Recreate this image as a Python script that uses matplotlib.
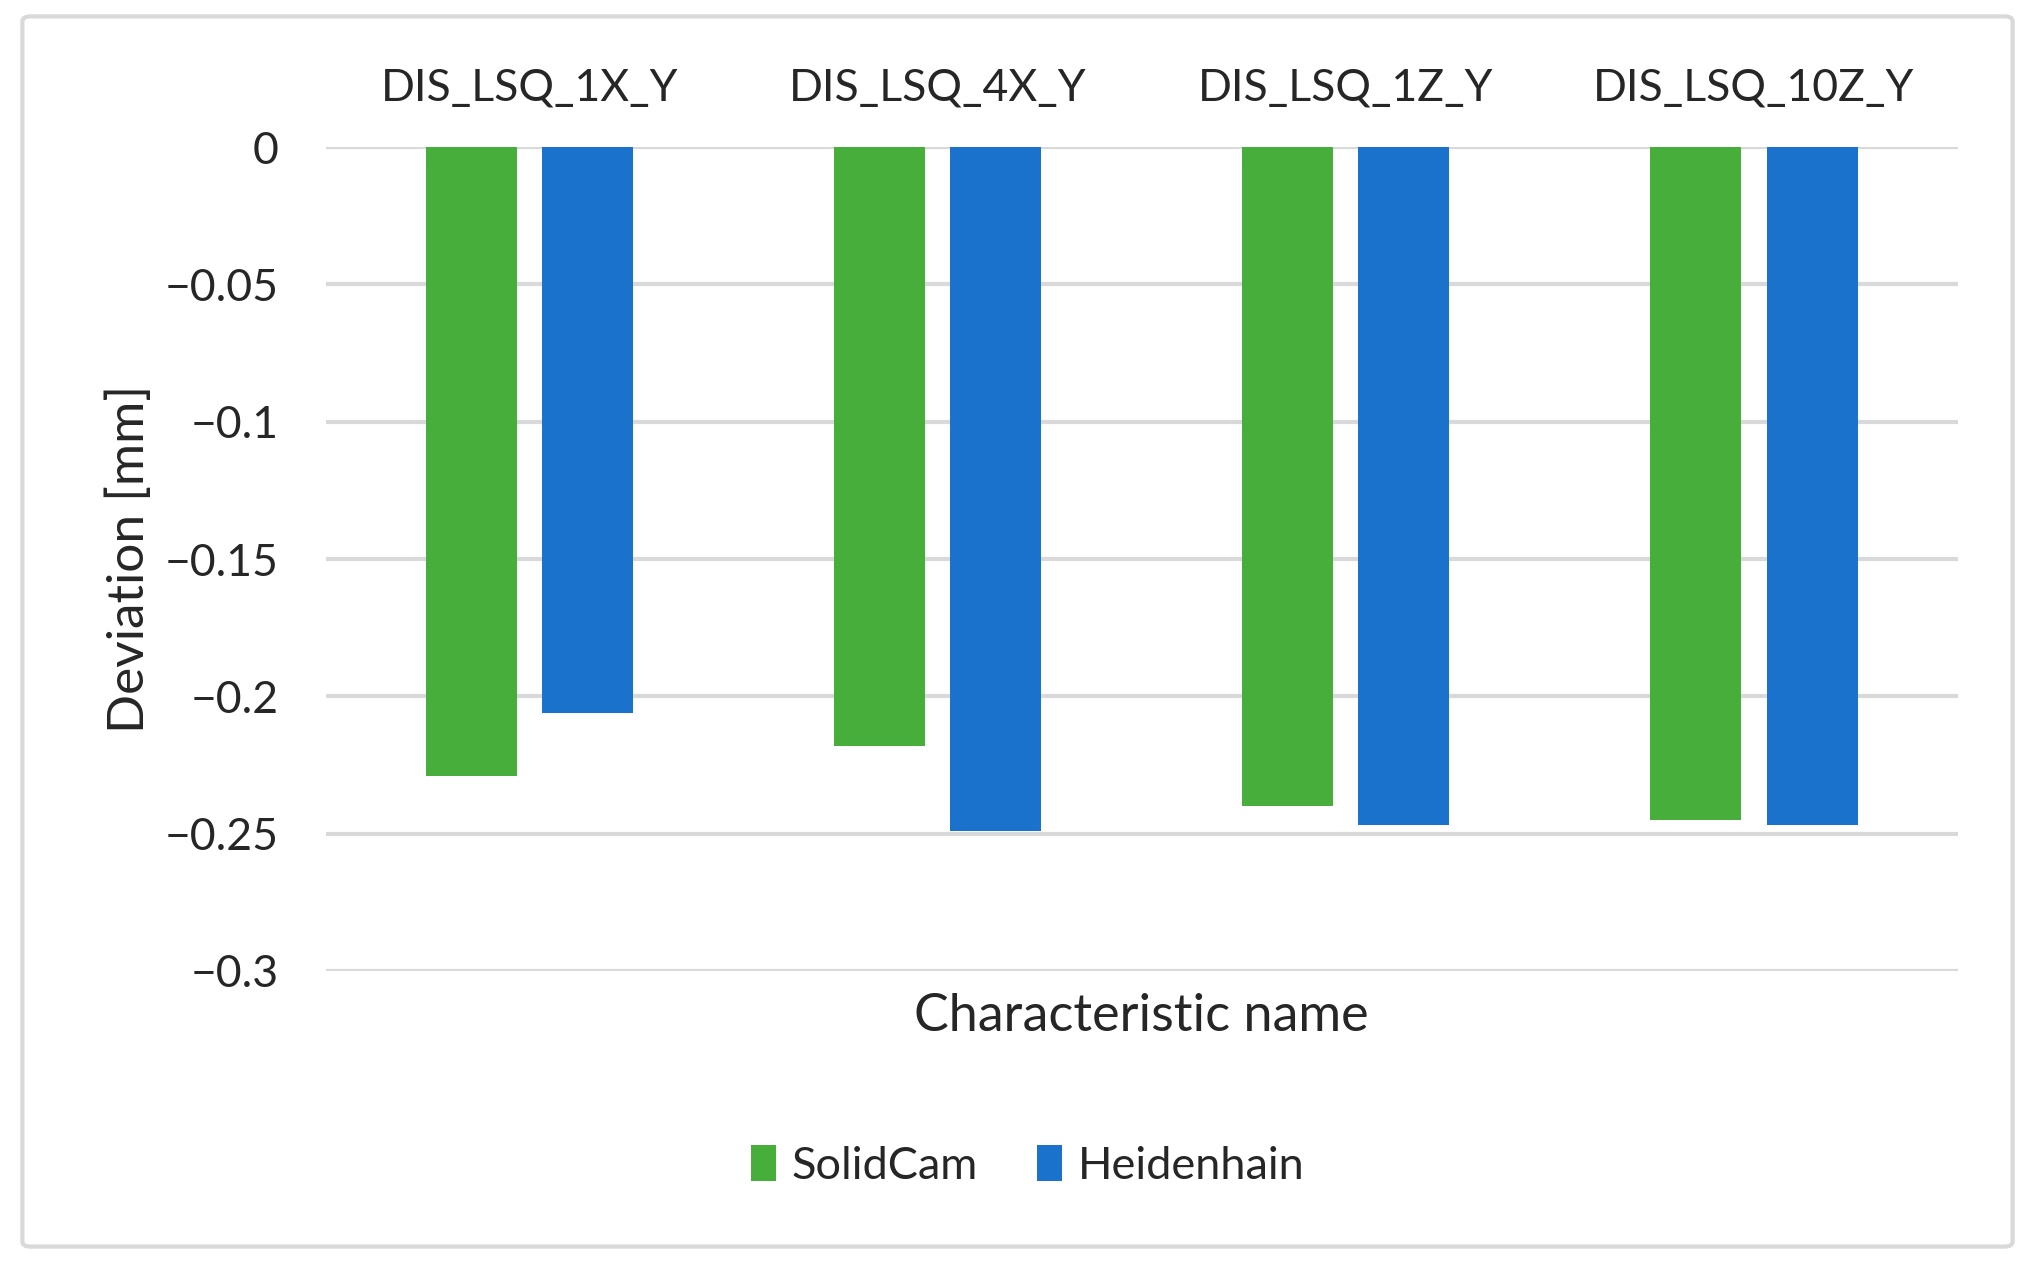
import numpy as np
import matplotlib.pyplot as plt
from matplotlib.patches import FancyBboxPatch

# data
names = ['DIS_LSQ_1X_Y', 'DIS_LSQ_4X_Y', 'DIS_LSQ_1Z_Y', 'DIS_LSQ_10Z_Y']
solidcam = [-0.229, -0.218, -0.240, -0.245]
heidenhain = [-0.206, -0.249, -0.247, -0.247]
yticks = [0, -0.05, -0.1, -0.15, -0.2, -0.25, -0.3]
yticklabels = ['0', '\u22120.05', '\u22120.1', '\u22120.15', '\u22120.2', '\u22120.25', '\u22120.3']

plt.rcParams['font.family'] = ['Lato', 'DejaVu Sans']

fig = plt.figure(figsize=(20.35, 12.63), dpi=100)

# light grey frame round the chart
frame = FancyBboxPatch((0.011, 0.013), 0.978, 0.974, boxstyle='round,pad=0,rounding_size=0.004',
                       transform=fig.transFigure, facecolor='none', edgecolor='#d9d9d9',
                       linewidth=3, zorder=-1)
fig.patches.append(frame)

ax = fig.add_axes([0.160, 0.2312, 0.802, 0.6524])
ax.set_facecolor('none')

x = np.arange(len(names)) + 0.5
w = 0.223
off = 0.143
ax.bar(x - off, solidcam, w, color='#47AE3B', label='SolidCam', zorder=3)
ax.bar(x + off, heidenhain, w, color='#1A72CC', label='Heidenhain', zorder=3)

ax.set_xlim(0, len(names))
ax.set_ylim(-0.3, 0)
ax.set_yticks(yticks)
ax.set_yticklabels(yticklabels, fontsize=32, color='#262626')
ax.set_xticks(x)
ax.set_xticklabels(names, fontsize=32, color='#262626')
ax.xaxis.tick_top()
ax.tick_params(axis='both', length=0)
ax.tick_params(axis='x', pad=28)
ax.tick_params(axis='y', pad=34)
ax.grid(axis='y', color='#d9d9d9', linewidth=3, zorder=0)
for s in ax.spines.values():
    s.set_visible(False)

ax.set_ylabel('Deviation [mm]', fontsize=37, color='#262626', labelpad=8)
ax.set_xlabel('Characteristic name', fontsize=37.5, color='#262626', labelpad=16)
ax.xaxis.set_label_position('bottom')

fig.legend(loc='center', bbox_to_anchor=(0.505, 1 - 1166 / 1263), ncol=2, frameon=False,
           fontsize=32.5, handlelength=0.55, handleheight=0.85, handletextpad=0.35,
           columnspacing=1.3, labelcolor='#262626')

fig.savefig('out.png', dpi=100)
